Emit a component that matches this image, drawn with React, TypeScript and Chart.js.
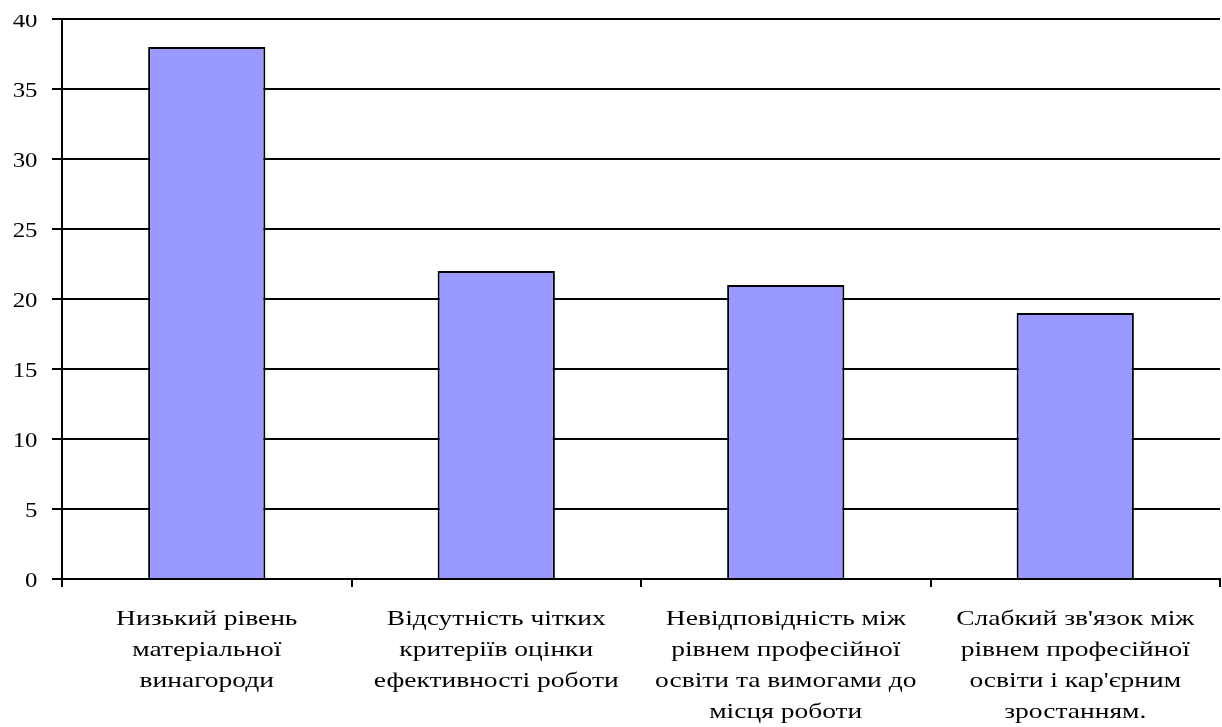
import React, { useEffect, useRef } from "react";
import { Chart, registerables } from "chart.js";

Chart.register(...registerables);

const categories: string[][] = [
  ["Низький рівень", "матеріальної", "винагороди"],
  ["Відсутність чітких", "критеріїв оцінки", "ефективності роботи"],
  ["Невідповідність між", "рівнем професійної", "освіти та вимогами до", "місця роботи"],
  ["Слабкий зв'язок між", "рівнем професійної", "освіти і кар'єрним", "зростанням."],
];
const values: number[] = [38, 22, 21, 19];
const yTicks: number[] = [0, 5, 10, 15, 20, 25, 30, 35, 40];

const FONT = "22px 'Liberation Serif', 'Times New Roman', serif";

// Axis text is drawn in a horizontally widened serif face.
const wideLabelsPlugin = {
  id: "wideLabels",
  afterDraw(chart: any) {
    const ctx = chart.ctx;
    const xScale = chart.scales.x;
    const yScale = chart.scales.y;
    const area = chart.chartArea;
    ctx.save();
    ctx.fillStyle = "#000000";
    ctx.font = FONT;
    ctx.textBaseline = "alphabetic";

    // category labels, centred under each bar
    ctx.textAlign = "center";
    const labels = chart.data.labels as string[][];
    labels.forEach((lines, i) => {
      const x = xScale.getPixelForTick(i);
      lines.forEach((line, k) => {
        const y = area.bottom + 46 + k * 31;
        ctx.save();
        ctx.translate(x, y);
        ctx.scale(1.25, 1);
        ctx.fillText(line, 0, 0);
        ctx.restore();
      });
    });

    // value labels, right-aligned left of the axis
    ctx.textAlign = "right";
    yTicks.forEach((v) => {
      const y = yScale.getPixelForValue(v);
      ctx.save();
      ctx.translate(area.left - 24.5, y + 7.5);
      ctx.scale(1.13, 1);
      ctx.fillText(String(v), 0, 0);
      ctx.restore();
    });
    ctx.restore();
  },
};

export default function App() {
  const ref = useRef<HTMLCanvasElement | null>(null);

  useEffect(() => {
    if (!ref.current) return;
    const chart = new Chart(ref.current, {
      type: "bar",
      data: {
        labels: categories,
        datasets: [
          {
            data: values,
            backgroundColor: "#9999FF",
            borderColor: "#000000",
            borderWidth: 2,
            barPercentage: 0.405,
            categoryPercentage: 1,
          },
        ],
      },
      plugins: [wideLabelsPlugin],
      options: {
        animation: false,
        responsive: false,
        devicePixelRatio: 1,
        layout: { padding: { top: 27, right: 2, left: 0, bottom: 0 } },
        plugins: { legend: { display: false }, tooltip: { enabled: false } },
        scales: {
          x: {
            offset: true,
            grid: {
              offset: true,
              drawOnChartArea: false,
              drawTicks: true,
              tickLength: 8,
              color: "#000000",
              lineWidth: 2,
            },
            border: { display: true, color: "#000000", width: 2 },
            ticks: { display: false, autoSkip: false, maxRotation: 0 },
            afterFit: (scale: any) => {
              scale.height = 148;
            },
          },
          y: {
            min: 0,
            max: 40,
            afterBuildTicks: (scale: any) => {
              scale.ticks = yTicks.map((v) => ({ value: v }));
            },
            grid: {
              color: "#000000",
              lineWidth: 2,
              tickLength: 10,
              drawTicks: true,
            },
            border: { display: true, color: "#000000", width: 2 },
            ticks: { display: false },
            afterFit: (scale: any) => {
              scale.width = 62;
            },
          },
        },
      },
    });
    return () => chart.destroy();
  }, []);

  return (
    <div style={{ position: "absolute", left: 0, top: 15, width: 1222, height: 712, overflow: "hidden", background: "#ffffff" }}>
      <canvas
        ref={ref}
        width={1222}
        height={735}
        style={{ position: "absolute", left: 0, top: -23, width: 1222, height: 735 }}
      />
    </div>
  );
}
